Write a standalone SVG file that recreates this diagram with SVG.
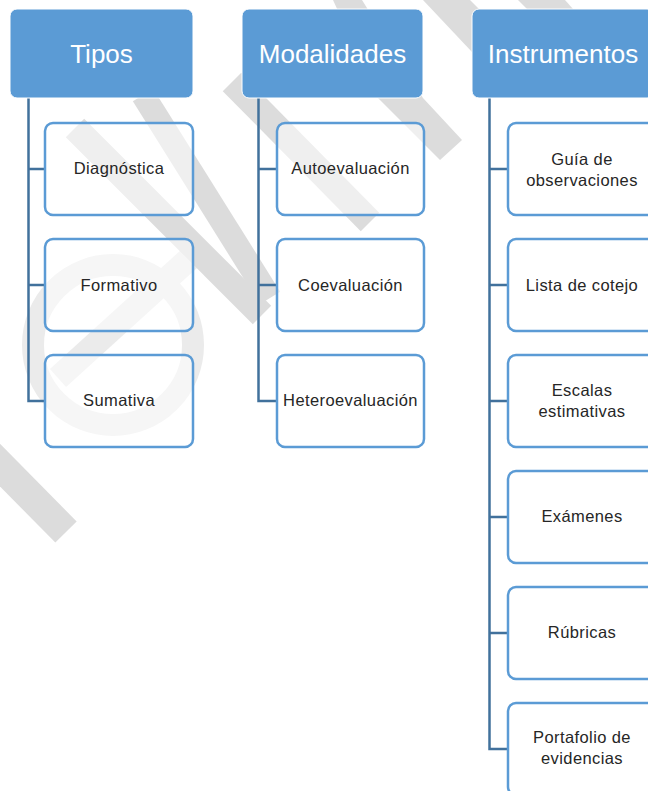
<svg xmlns="http://www.w3.org/2000/svg" width="648" height="791" viewBox="0 0 648 791">
<style>
.band{stroke:#dcdcdc;fill:none;stroke-linecap:butt}
.bandf{fill:#dcdcdc}
.lite{stroke:#ebebeb;fill:none}
.hdr rect{fill:#5B9BD5;stroke:#ffffff;stroke-width:1}
.hdr text{font-family:"Liberation Sans",Arial,sans-serif;font-size:26px;fill:#ffffff;text-anchor:middle}
.node rect{fill:#ffffff;fill-opacity:0.55;stroke:#5B9BD5;stroke-width:2.5}
.node text{font-family:"Liberation Sans",Arial,sans-serif;font-size:16.5px;fill:#262626;text-anchor:middle;letter-spacing:0.4px}
.conn path{fill:none;stroke:#41719C;stroke-width:2.5}
</style>
<rect width="648" height="791" fill="#ffffff"/>
<g id="watermark">
  <circle class="lite" cx="113" cy="345" r="80" stroke-width="22"/>
  <line class="lite" x1="190" y1="258" x2="58" y2="378" stroke-width="24"/>
  <line class="band" x1="-15" y1="450" x2="66" y2="532" stroke-width="30"/>
  <line class="band" x1="143" y1="95" x2="270" y2="298" stroke-width="24"/>
  <line class="band" x1="75" y1="128" x2="262" y2="315" stroke-width="26"/>
  <line class="band" x1="232" y1="82" x2="370" y2="222" stroke-width="26"/>
  <polygon class="bandf" points="333,0 362,0 423,98 462,140 440,160 378,98"/>
  <polygon class="bandf" points="423,0 470,0 485,15 485,60 472,52"/>
  <polygon class="bandf" points="518,0 565,0 573,9 527,9"/>
</g>
<g class="conn" id="connectors">
  <path d="M28.5 98 V401 H45 M28.5 169 H45 M28.5 285 H45"/>
  <path d="M258.5 98 V401 H277 M258.5 169 H277 M258.5 285 H277"/>
  <path d="M489.5 98 V749 H508 M489.5 169 H508 M489.5 285 H508 M489.5 401 H508 M489.5 517 H508 M489.5 633 H508"/>
</g>
<g class="hdr" id="tipos"><rect x="10" y="9" width="183" height="89" rx="7"/><text x="101.5" y="62.5">Tipos</text></g>
<g class="hdr" id="modalidades"><rect x="242" y="9" width="181" height="89" rx="7"/><text x="332.5" y="62.5">Modalidades</text></g>
<g class="hdr" id="instrumentos"><rect x="472" y="9" width="182" height="89" rx="7"/><text x="563" y="62.5">Instrumentos</text></g>
<g class="node" id="diagnostica"><rect x="45" y="123" width="148" height="92" rx="8"/><text x="119" y="174">Diagnóstica</text></g>
<g class="node" id="formativo"><rect x="45" y="239" width="148" height="92" rx="8"/><text x="119" y="290.5">Formativo</text></g>
<g class="node" id="sumativa"><rect x="45" y="355" width="148" height="92" rx="8"/><text x="119" y="406">Sumativa</text></g>
<g class="node" id="autoevaluacion"><rect x="277" y="123" width="147" height="92" rx="8"/><text x="350.5" y="174">Autoevaluación</text></g>
<g class="node" id="coevaluacion"><rect x="277" y="239" width="147" height="92" rx="8"/><text x="350.5" y="290.5">Coevaluación</text></g>
<g class="node" id="heteroevaluacion"><rect x="277" y="355" width="147" height="92" rx="8"/><text x="350.5" y="406">Heteroevaluación</text></g>
<g class="node" id="guia"><rect x="508" y="123" width="148" height="92" rx="8"/><text x="582" y="164.5">Guía de</text><text x="582" y="185.5">observaciones</text></g>
<g class="node" id="lista"><rect x="508" y="239" width="148" height="92" rx="8"/><text x="582" y="290.5">Lista de cotejo</text></g>
<g class="node" id="escalas"><rect x="508" y="355" width="148" height="92" rx="8"/><text x="582" y="395.5">Escalas</text><text x="582" y="416.5">estimativas</text></g>
<g class="node" id="examenes"><rect x="508" y="471" width="148" height="92" rx="8"/><text x="582" y="522">Exámenes</text></g>
<g class="node" id="rubricas"><rect x="508" y="587" width="148" height="92" rx="8"/><text x="582" y="638">Rúbricas</text></g>
<g class="node" id="portafolio"><rect x="508" y="703" width="148" height="92" rx="8"/><text x="582" y="743">Portafolio de</text><text x="582" y="764">evidencias</text></g>
</svg>
